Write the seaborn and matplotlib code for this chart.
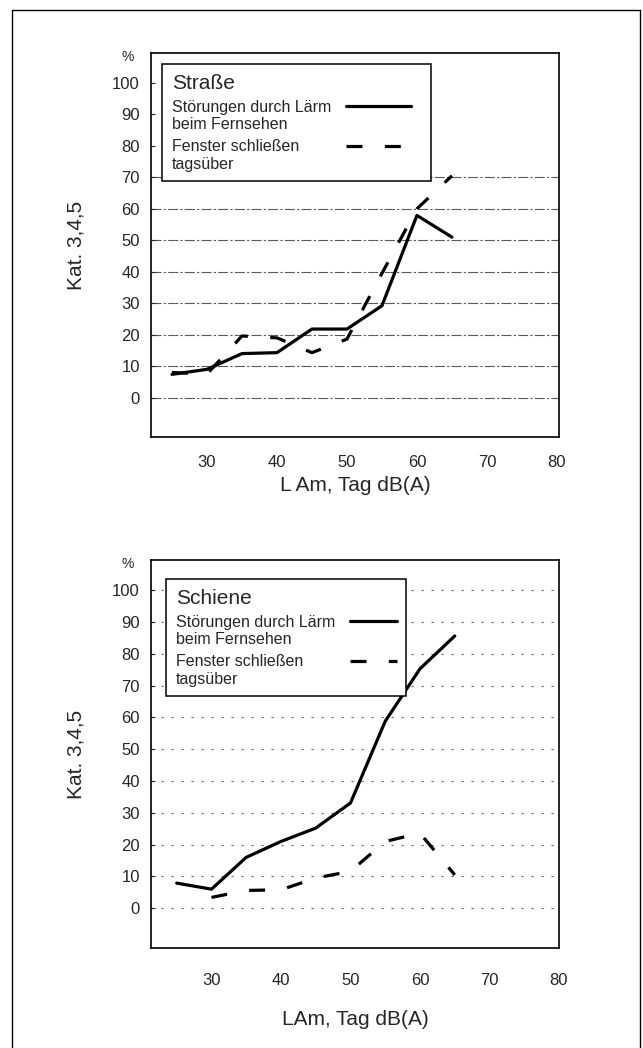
import matplotlib
matplotlib.use("Agg")
import matplotlib.pyplot as plt
from matplotlib.lines import Line2D
import seaborn as sns
import pandas as pd
import numpy as np

# ---------------- data ----------------
x_levels = [25, 30, 35, 40, 45, 50, 55, 60, 65]
x_levels_rail_window = [30, 35, 40, 45, 50, 55, 60, 65]

strasse_tv = [7.4, 9.0, 14.0, 14.3, 21.8, 21.8, 29.2, 57.9, 51.0]
strasse_window = [8.0, 7.5, 19.6, 19.0, 14.3, 18.6, 39.5, 60.0, 70.5]

schiene_tv = [7.9, 6.0, 16.0, 21.0, 25.2, 33.1, 58.8, 75.3, 85.6]
schiene_window = [3.4, 5.6, 5.8, 9.5, 11.6, 21.0, 23.6, 10.5]

series_tv = "Störungen durch Lärm\nbeim Fernsehen"
series_window = "Fenster schließen\ntagsüber"

x_ticks = [30, 40, 50, 60, 70, 80]
y_ticks = [0, 10, 20, 30, 40, 50, 60, 70, 80, 90, 100]

panel_titles = ["Straße", "Schiene"]
x_labels = ["L Am, Tag dB(A)", "LAm, Tag dB(A)"]
y_label = "Kat. 3,4,5"


def make_df(x1, y1, x2, y2):
    return pd.concat([
        pd.DataFrame({"x": x1, "y": y1, "Serie": series_tv}),
        pd.DataFrame({"x": x2, "y": y2, "Serie": series_window}),
    ], ignore_index=True)


df_top = make_df(x_levels, strasse_tv, x_levels, strasse_window)
df_bot = make_df(x_levels, schiene_tv, x_levels_rail_window, schiene_window)

# ---------------- style ----------------
sns.set_style("white")
plt.rcParams["font.family"] = ["Liberation Sans", "DejaVu Sans"]

W, H = 643, 1048
fig = plt.figure(figsize=(W / 100, H / 100), dpi=100)


def px_axes(left, top, right, bottom):
    return fig.add_axes([left / W, 1 - bottom / H, (right - left) / W, (bottom - top) / H])


ax_top = px_axes(151, 53, 559, 437)
ax_bot = px_axes(151, 560, 559, 948)

palette = {series_tv: "black", series_window: "black"}
dashes = {series_tv: "", series_window: (5, 7)}

LEG_FS = 11.5
configs = [
    dict(ax=ax_top, df=df_top, xlim=(22, 80.3), grid_ls=(0, (9, 2, 2, 2)), grid_c="0.35",
         grid_max=70, leg_anchor=(0.027, 0.971), line_pt=46.8, extra_pt=7.4,
         xpad=13, xlabelpad=4),
    dict(ax=ax_bot, df=df_bot, xlim=(21.3, 79.9), grid_ls=(0, (2, 7)), grid_c="0.4",
         grid_max=100, leg_anchor=(0.037, 0.951), line_pt=33.8, extra_pt=0.0,
         xpad=18, xlabelpad=16),
]

legends = []
for i, cfg in enumerate(configs):
    ax = cfg["ax"]
    sns.lineplot(data=cfg["df"], x="x", y="y", hue="Serie", style="Serie",
                 palette=palette, dashes=dashes, linewidth=2.3, estimator=None,
                 sort=False, legend=False, ax=ax)
    ax.set_xlim(*cfg["xlim"])
    ax.set_ylim(-12.5, 109.5)
    ax.set_xticks(x_ticks)
    ax.set_yticks(y_ticks)
    ax.tick_params(axis="x", length=0, pad=cfg["xpad"], labelsize=12)
    ax.tick_params(axis="y", direction="in", length=3, width=0.8, pad=8, labelsize=12, left=True)
    ax.grid(axis="y", color=cfg["grid_c"], linewidth=0.8, linestyle=cfg["grid_ls"])
    for val, gl in zip(y_ticks, ax.yaxis.get_gridlines()):
        if val > cfg["grid_max"]:
            gl.set_visible(False)
    for sp in ax.spines.values():
        sp.set_visible(True)
        sp.set_color("black")
        sp.set_linewidth(1.2)
    ax.set_xlabel(x_labels[i], fontsize=15, labelpad=cfg["xlabelpad"])
    ax.set_ylabel(y_label, fontsize=15)
    ax.yaxis.set_label_coords(-0.16, 0.5)
    ax.text(-0.056, 0.99, "%", transform=ax.transAxes, ha="center", va="center", fontsize=10)

    handles = ax.get_lines()[:2]
    total_len = (cfg["line_pt"] + cfg["extra_pt"]) / LEG_FS
    leg = ax.legend(handles=handles, labels=[series_tv, series_window],
                    title=panel_titles[i], title_fontsize=15, fontsize=LEG_FS,
                    loc="upper left", bbox_to_anchor=cfg["leg_anchor"], borderaxespad=0,
                    frameon=True, fancybox=False, edgecolor="black", framealpha=1,
                    markerfirst=False, handlelength=total_len,
                    handletextpad=0.94, labelspacing=0.45, borderpad=0.6,
                    alignment="left")
    leg.get_frame().set_linewidth(1.1)
    for t in leg.get_texts():
        t.set_linespacing(1.2)
    for ln in leg.get_lines():
        xd = np.asarray(ln.get_xdata(), dtype=float)
        yd = np.asarray(ln.get_ydata(), dtype=float)
        span = xd[-1] - xd[0]
        if span > 0:
            xd = xd[0] + (xd - xd[0]) * cfg["line_pt"] / span
        ln.set_data(xd, yd + 7.5)
    legends.append(leg)

# align legend handles in a common column (labels left-aligned)
fig.canvas.draw()
renderer = fig.canvas.get_renderer()
for leg in legends:
    widths = [t.get_window_extent(renderer).width for t in leg.get_texts()]
    maxw = max(widths)
    for col in leg._legend_handle_box.get_children():
        col.align = "left"
        for itembox, w in zip(col.get_children(), widths):
            itembox.sep += (maxw - w) * 72.0 / fig.dpi

# outer frame of the page (left, top, right edges)
frame_kw = dict(color="black", linewidth=1.0, transform=fig.transFigure)
x0, x1, y1 = 12 / W, 640 / W, 1 - 10 / H
fig.add_artist(Line2D([x0, x0], [0, y1], **frame_kw))
fig.add_artist(Line2D([x0, x1], [y1, y1], **frame_kw))
fig.add_artist(Line2D([x1, x1], [y1, 0], **frame_kw))

fig.savefig("out.png", dpi=100)
